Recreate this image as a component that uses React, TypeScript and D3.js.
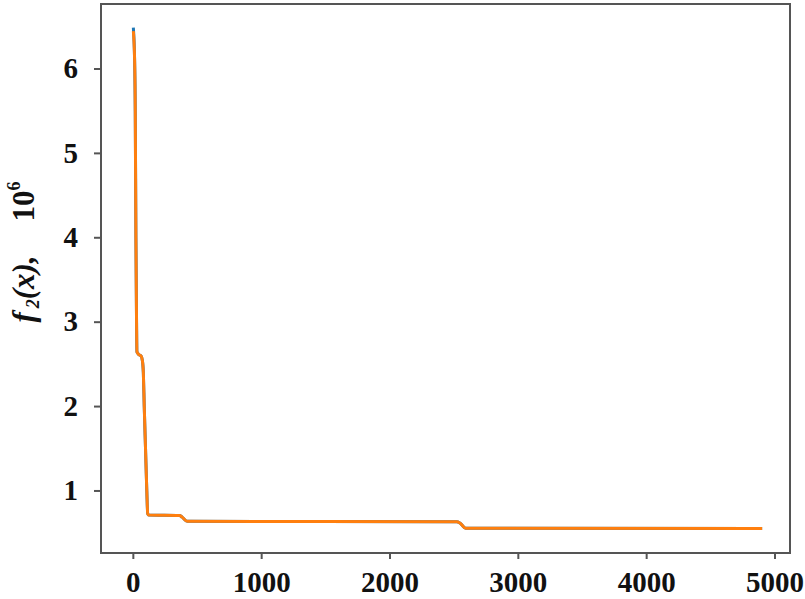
import React from "react";
import * as d3 from "d3";

const iterations = [0, 10, 15, 20, 25, 28, 40, 60, 70, 78, 85, 95, 105, 112, 120, 360, 380, 420, 2520, 2545, 2590, 4900];
const blueValues = [6.49, 6.1, 5.5, 4.0, 3.0, 2.65, 2.62, 2.6, 2.55, 2.4, 2.0, 1.5, 1.0, 0.73, 0.715, 0.71, 0.69, 0.64, 0.635, 0.62, 0.558, 0.555];
const orangeValues = [6.45, 6.1, 5.5, 4.0, 3.0, 2.65, 2.62, 2.6, 2.55, 2.4, 2.0, 1.5, 1.0, 0.73, 0.715, 0.71, 0.69, 0.64, 0.635, 0.62, 0.558, 0.555];
const xTicks = [0, 1000, 2000, 3000, 4000, 5000];
const yTicks = [1, 2, 3, 4, 5, 6];

export default function App() {
  const W = 805, H = 599;
  const left = 101, right = 790, top = 4, bottom = 553;
  const x = d3.scaleLinear().domain([-252, 5117]).range([left, right]);
  const y = d3.scaleLinear().domain([0.265, 6.77]).range([bottom, top]);
  const line = d3.line<[number, number]>().x(d => x(d[0])).y(d => y(d[1])).curve(d3.curveMonotoneX);
  const blue = iterations.map((it, i) => [it, blueValues[i]] as [number, number]);
  const orange = iterations.map((it, i) => [it, orangeValues[i]] as [number, number]);
  const font = "Liberation Serif, Times New Roman, Tinos, serif";
  const axisColor = "#555";
  const textStyle = { fontFamily: font, fontWeight: 700 as const };
  return (
    <svg width={W} height={H} style={{ position: "absolute", left: 0, top: 0, background: "#fff" }}>
      <rect x={0} y={0} width={W} height={H} fill="#fff" />
      <path d={line(blue) || ""} fill="none" stroke="#1f77b4" strokeWidth={3} />
      <path d={line(orange) || ""} fill="none" stroke="#ff7f0e" strokeWidth={3} />
      <rect x={left} y={top} width={right - left} height={bottom - top} fill="none" stroke={axisColor} strokeWidth={2} />
      {xTicks.map(t => (
        <g key={"x" + t}>
          <line x1={x(t)} x2={x(t)} y1={bottom} y2={bottom + 6} stroke={axisColor} strokeWidth={2} />
          <text x={x(t)} y={592} textAnchor="middle" style={textStyle} fontSize={29} fill="#111">{t}</text>
        </g>
      ))}
      {yTicks.map(t => (
        <g key={"y" + t}>
          <line x1={left - 7} x2={left} y1={y(t)} y2={y(t)} stroke={axisColor} strokeWidth={2} />
          <text x={78} y={y(t)} dy="0.32em" textAnchor="end" style={textStyle} fontSize={29} fill="#111">{t}</text>
        </g>
      ))}
      <text transform="translate(34,252) rotate(-90)" textAnchor="middle" style={textStyle} fontSize={31} fill="#111">
        <tspan fontStyle="italic">f</tspan>
        <tspan fontStyle="italic" fontSize={18} dx={4} dy={5}>2</tspan>
        <tspan fontStyle="italic" dy={-5}>(x),</tspan>
        <tspan dx={34}>10</tspan>
        <tspan fontSize={18} dy={-14}>6</tspan>
      </text>
    </svg>
  );
}
